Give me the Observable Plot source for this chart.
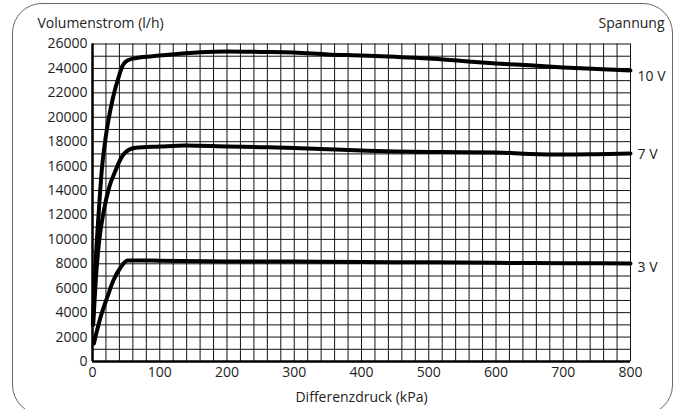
<!DOCTYPE html>
<html>
<head>
<meta charset="utf-8">
<script src="https://cdn.jsdelivr.net/npm/d3@7"></script>
<script src="https://cdn.jsdelivr.net/npm/@observablehq/plot@0.6"></script>
<style>
  html, body { margin: 0; padding: 0; background: #fff; }
  #wrap { position: relative; width: 681px; height: 409px; overflow: hidden; }
  #border { position: absolute; left: 12px; top: 3px; width: 661px; height: 412px;
            border: 1px solid #666; border-radius: 30px; box-sizing: border-box; }
  #chart { position: absolute; left: 0; top: 0; }
</style>
</head>
<body>
<div id="wrap"><div id="border"></div><div id="chart"></div></div>
<script>
// Differential pressure (kPa) and flow (l/h) per control voltage
const p10 = [0.5, 4, 9, 14, 20, 30, 40, 45, 52, 65, 100, 160, 200, 250, 300, 350, 400, 450, 500, 550, 600, 650, 700, 750, 800];
const q10 = [3000, 7500, 12000, 15800, 18500, 21500, 23500, 24250, 24650, 24850, 25050, 25330, 25390, 25350, 25300, 25150, 25060, 24950, 24810, 24600, 24400, 24250, 24080, 23950, 23830];
const p7 = [1, 5, 10, 17, 25, 34, 42, 49, 64, 100, 138, 200, 250, 300, 350, 400, 450, 500, 550, 600, 650, 700, 750, 800];
const q7 = [3000, 6800, 9900, 12400, 14300, 15600, 16600, 17140, 17500, 17600, 17690, 17610, 17550, 17490, 17380, 17280, 17200, 17160, 17140, 17120, 17000, 16950, 16980, 17030];
const p3 = [2, 12, 22, 31, 42, 52, 60, 100, 200, 300, 400, 500, 600, 700, 800];
const q3 = [1470, 3630, 5270, 6630, 7720, 8270, 8280, 8250, 8190, 8180, 8150, 8120, 8080, 8050, 8030];

const seriesNames = ["10 V", "7 V", "3 V"];
const labelValues = [23350, 16950, 7700];

const xTicks = [0, 100, 200, 300, 400, 500, 600, 700, 800];
const yTicks = [0, 2000, 4000, 6000, 8000, 10000, 12000, 14000, 16000, 18000, 20000, 22000, 24000, 26000];

const xTitle = "Differenzdruck (kPa)";
const yTitle = "Volumenstrom (l/h)";
const legendTitle = "Spannung";

const series = [[p10, q10], [p7, q7], [p3, q3]];
const lines = series.map(([p, q], i) => p.map((x, j) => ({x, y: q[j], s: seriesNames[i]})));
const labels = seriesNames.map((s, i) => ({s, y: labelValues[i]}));

const xGrid = d3.range(0, 801, 20);
const yGrid = d3.range(0, 26001, 1000);

const chart = Plot.plot({
  width: 681,
  height: 409,
  marginLeft: 92,
  marginRight: 51,
  marginTop: 43.5,
  marginBottom: 48,
  style: {fontFamily: "'Open Sans', sans-serif", fontSize: "14px", color: "#222", background: "transparent", overflow: "visible"},
  x: {domain: [0, 800]},
  y: {domain: [0, 26000]},
  marks: [
    Plot.ruleX(xGrid, {stroke: "#111", strokeWidth: 1}),
    Plot.ruleY(yGrid, {stroke: "#111", strokeWidth: 1}),
    Plot.ruleX([0], {stroke: "#000", strokeWidth: 2.5}),
    Plot.ruleY([0], {stroke: "#000", strokeWidth: 2.5}),
    ...lines.map(d => Plot.line(d, {x: "x", y: "y", stroke: "#000", strokeWidth: 4, curve: "monotone-x"})),
    Plot.axisX({ticks: xTicks, tickSize: 0, tickPadding: 6, label: null, tickFormat: d => String(d)}),
    Plot.axisY({ticks: yTicks, tickSize: 0, tickPadding: 5, label: null, tickFormat: d => String(d)}),
    Plot.text(labels, {x: 800, y: "y", text: "s", textAnchor: "start", dx: 7, fill: "#222"}),
    Plot.text([yTitle], {frameAnchor: "top-left", lineAnchor: "middle", textAnchor: "start", dx: -55, dy: -20, fill: "#222"}),
    Plot.text([legendTitle], {frameAnchor: "top-right", lineAnchor: "middle", textAnchor: "end", dx: 34, dy: -20, fill: "#222"}),
    Plot.text([xTitle], {frameAnchor: "bottom", lineAnchor: "middle", dy: 36, fill: "#222"})
  ]
});
document.getElementById("chart").appendChild(chart);
</script>
</body>
</html>
